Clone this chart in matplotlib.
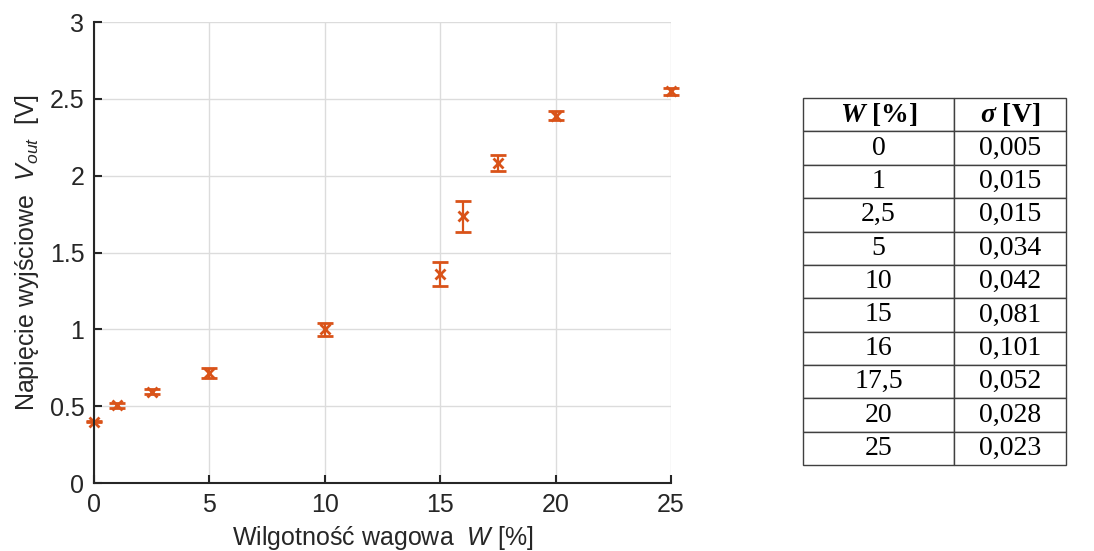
import numpy as np
from matplotlib import pyplot as plt

plt.rcParams['font.family'] = ['Liberation Sans', 'DejaVu Sans']
plt.rcParams['mathtext.fontset'] = 'custom'
plt.rcParams['mathtext.rm'] = 'Liberation Sans'
plt.rcParams['mathtext.it'] = 'Liberation Sans:italic'
plt.rcParams['mathtext.bfit'] = 'Liberation Serif:italic:bold'

# Moisture content W [%] and output voltage with std deviation
W = [0, 1, 2.5, 5, 10, 15, 16, 17.5, 20, 25]
V_out = [0.40, 0.505, 0.595, 0.715, 1.00, 1.36, 1.735, 2.08, 2.39, 2.55]
sigma = [0.005, 0.015, 0.015, 0.034, 0.042, 0.081, 0.101, 0.052, 0.028, 0.023]

W_labels = ['0', '1', '2,5', '5', '10', '15', '16', '17,5', '20', '25']
sigma_labels = ['0,005', '0,015', '0,015', '0,034', '0,042', '0,081',
                '0,101', '0,052', '0,028', '0,023']

color = '#D95319'
txt = '#262626'

fig = plt.figure(figsize=(10.94, 5.51), dpi=100)
ax = fig.add_axes([0.0859, 0.1234, 0.5274, 0.8366])

eb = ax.errorbar(W, V_out, yerr=sigma, fmt='x', color=color, ecolor=color,
                 markersize=7, markeredgewidth=2, elinewidth=1.6, capsize=6,
                 capthick=1.6)
for artist in eb.get_children():
    artist.set_clip_on(False)

ax.set_xlim(0, 25)
ax.set_ylim(0, 3)
ax.set_xticks([0, 5, 10, 15, 20, 25])
ax.set_yticks([0, 0.5, 1, 1.5, 2, 2.5, 3])
ax.set_yticklabels(['0', '0.5', '1', '1.5', '2', '2.5', '3'])
ax.grid(True, color='#dcdcdc', linewidth=1)
ax.set_axisbelow(True)
for s in ['top', 'right']:
    ax.spines[s].set_visible(False)
for s in ['left', 'bottom']:
    ax.spines[s].set_linewidth(1.5)
    ax.spines[s].set_color(txt)
ax.tick_params(direction='in', length=6, width=1.5, labelsize=18,
               colors=txt, pad=7)
ax.set_xlabel('Wilgotność wagowa  $W$ [%]', fontsize=18, color=txt,
              labelpad=5)
ax.set_ylabel('Napięcie wyjściowe  $V_{out}$  [V]', fontsize=18,
              color=txt, labelpad=6)

# Table of standard deviations
tax = fig.add_axes([0.734, 0.156, 0.240, 0.666])
tax.axis('off')
cells = [[w, s] for w, s in zip(W_labels, sigma_labels)]
tbl = tax.table(cellText=cells,
                colLabels=[r'$\mathbfit{W}$ [%]', r'$\mathbfit{\sigma}$ [V]'],
                cellLoc='center', bbox=[0, 0, 1, 1], colWidths=[0.575, 0.425])
tbl.auto_set_font_size(False)
for (r, c), cell in tbl.get_celld().items():
    cell.set_edgecolor('#404040')
    cell.set_linewidth(1)
    cell.get_text().set_fontfamily('Liberation Serif')
    cell.get_text().set_fontsize(20)
    if r == 0:
        cell.get_text().set_fontweight('bold')

plt.savefig('out.png', dpi=100)
